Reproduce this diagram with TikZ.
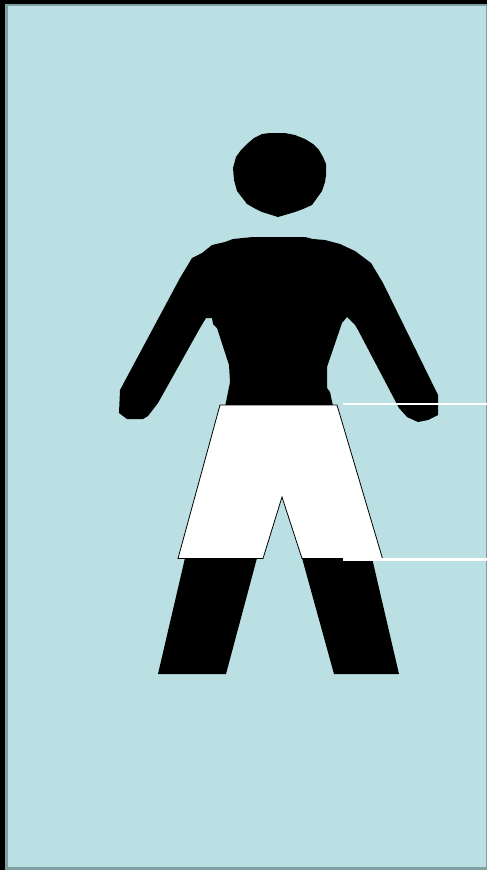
\documentclass[tikz,border=0pt]{standalone}
\usepackage{xcolor}
\definecolor{panelblue}{HTML}{BBE0E3}
\definecolor{paneledge}{HTML}{7FA0A3}

\begin{document}
\begin{tikzpicture}[
  x=1pt, y=-1pt,
  figure/.style={fill=black, draw=none},
  shorts/.style={fill=white, draw=black, line width=0.8pt, line join=miter},
  rule/.style={draw=white, line width=2.6pt}
]
\useasboundingbox (0,0) rectangle (487,870);
\fill[black] (0,0) rectangle (487,870);
\fill[paneledge] (5,3.5) rectangle (487,870);
\fill[panelblue] (8,6) rectangle (485.5,867);

\fill[figure] (262,134) -- (270,133) -- (285,133) -- (295,135) -- (305,139) -- (313,144)
  -- (319,150) -- (323,157) -- (326,164) -- (326,175) -- (325,182) -- (322,191)
  -- (312,205) -- (303,209) -- (295,212) -- (278,217) -- (262,212) -- (254,208)
  -- (247,204) -- (237,191) -- (234,180) -- (233,168) -- (236,157) -- (241,150)
  -- (247,144) -- (254,138) -- cycle;

\fill[figure] (253,237) -- (305,237) -- (313,239) -- (325,240) -- (340,244) -- (355,251)
  -- (371,263) -- (383,283) -- (438,395) -- (438,415) -- (428,420) -- (418,422)
  -- (407,417) -- (399,408) -- (358,330) -- (355,325) -- (347,317) -- (342,323)
  -- (327,367) -- (327,388) -- (330,392) -- (333,406) -- (225,407) -- (230,382)
  -- (229,365) -- (217,328) -- (213,324) -- (212,318) -- (206,318) -- (200,328)
  -- (158,403) -- (148,416) -- (143,419) -- (127,419) -- (119,413) -- (120,390)
  -- (180,278) -- (192,258) -- (202,253) -- (212,245) -- (225,242) -- (233,239)
  -- cycle;

\fill[figure] (185,558) -- (257,558) -- (226,674) -- (158,674) -- cycle;
\fill[figure] (302,558) -- (372,558) -- (399,674) -- (334,674) -- cycle;

\draw[shorts] (220,405) -- (337,405) -- (382.5,558.5) -- (302,558.5) -- (282,497)
  -- (263,558.5) -- (178,558.5) -- cycle;

\draw[rule] (343,404) -- (487,404);
\draw[rule] (343,559.3) -- (487,559.3);
\end{tikzpicture}
\end{document}
